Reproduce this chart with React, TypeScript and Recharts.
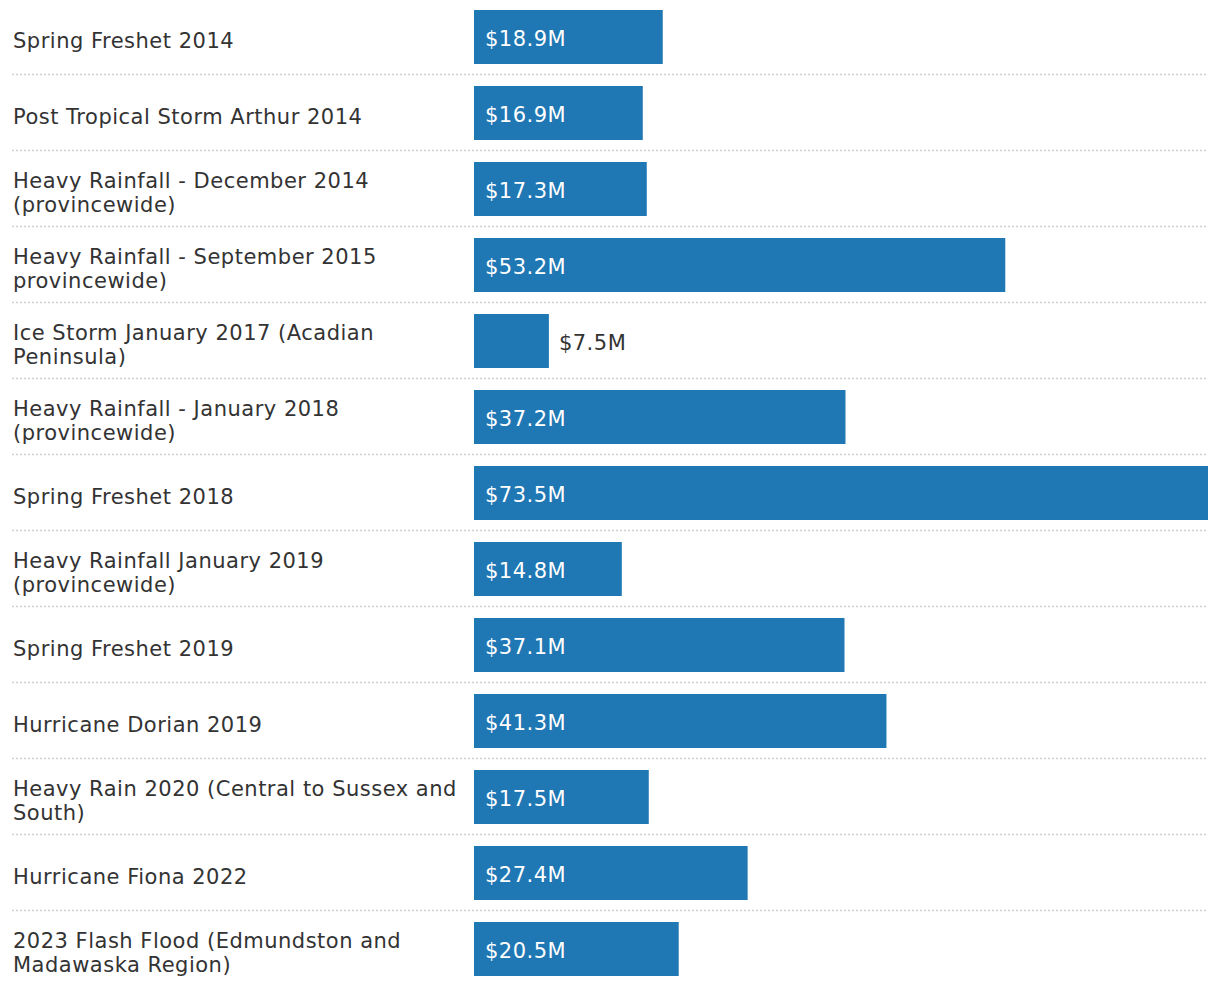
import React from "react";
import { BarChart, Bar, XAxis, YAxis, LabelList } from "recharts";

const categories: string[] = [
  "Spring Freshet 2014",
  "Post Tropical Storm Arthur 2014",
  "Heavy Rainfall - December 2014\n(provincewide)",
  "Heavy Rainfall - September 2015\nprovincewide)",
  "Ice Storm January 2017 (Acadian\nPeninsula)",
  "Heavy Rainfall - January 2018\n(provincewide)",
  "Spring Freshet 2018",
  "Heavy Rainfall January 2019\n(provincewide)",
  "Spring Freshet 2019",
  "Hurricane Dorian 2019",
  "Heavy Rain 2020 (Central to Sussex and\nSouth)",
  "Hurricane Fiona 2022",
  "2023 Flash Flood (Edmundston and\nMadawaska Region)",
];

const costs: number[] = [18.9, 16.9, 17.3, 53.2, 7.5, 37.2, 73.5, 14.8, 37.1, 41.3, 17.5, 27.4, 20.5];

const data = categories.map((name, i) => ({ name, value: costs[i] }));

const FONT = "'DejaVu Sans', sans-serif";
const TEXT = "#333333";
const BAR = "#1f77b4";

const CategoryTick = (props: any) => {
  const { y, payload, index } = props;
  const lines: string[] = String(payload.value).split("\n");
  const lh = 24;
  const startY = y - ((lines.length - 1) * lh) / 2;
  return (
    <g>
      {lines.map((l, i) => (
        <text
          key={i}
          x={13}
          y={startY + i * lh + 10.5}
          fill={TEXT}
          fontFamily={FONT}
          fontSize={21}
          letterSpacing={0.5}
          textAnchor="start"
        >
          {l}
        </text>
      ))}
      {index < categories.length - 1 && (
        <line x1={12} x2={1208} y1={y + 37.5} y2={y + 37.5} stroke="#d0d0d0" strokeWidth={1.5} strokeDasharray="2 2" />
      )}
    </g>
  );
};

const ValueLabel = (props: any) => {
  const { x, y, width, height, value } = props;
  const inside = width > 100;
  const text = `$${Number(value).toFixed(1)}M`;
  return (
    <text
      x={inside ? x + 11 : x + width + 10}
      y={y + height / 2 + 8.5}
      fill={inside ? "#ffffff" : TEXT}
      fontFamily={FONT}
      fontSize={21}
      letterSpacing={0.5}
      textAnchor="start"
    >
      {text}
    </text>
  );
};

export default function App() {
  return (
    <div style={{ position: "absolute", top: -1, left: 0, width: 1220, height: 988, background: "#fff" }}>
      <BarChart
        width={1220}
        height={988}
        data={data}
        layout="vertical"
        margin={{ top: 0, right: 12, bottom: 0, left: 0 }}
        barCategoryGap={22}
      >
        <XAxis type="number" domain={[0, 73.5]} hide />
        <YAxis
          type="category"
          dataKey="name"
          width={474}
          axisLine={false}
          tickLine={false}
          interval={0}
          tick={<CategoryTick />}
        />
        <Bar dataKey="value" fill={BAR} barSize={54} isAnimationActive={false}>
          <LabelList dataKey="value" content={<ValueLabel />} />
        </Bar>
      </BarChart>
    </div>
  );
}
